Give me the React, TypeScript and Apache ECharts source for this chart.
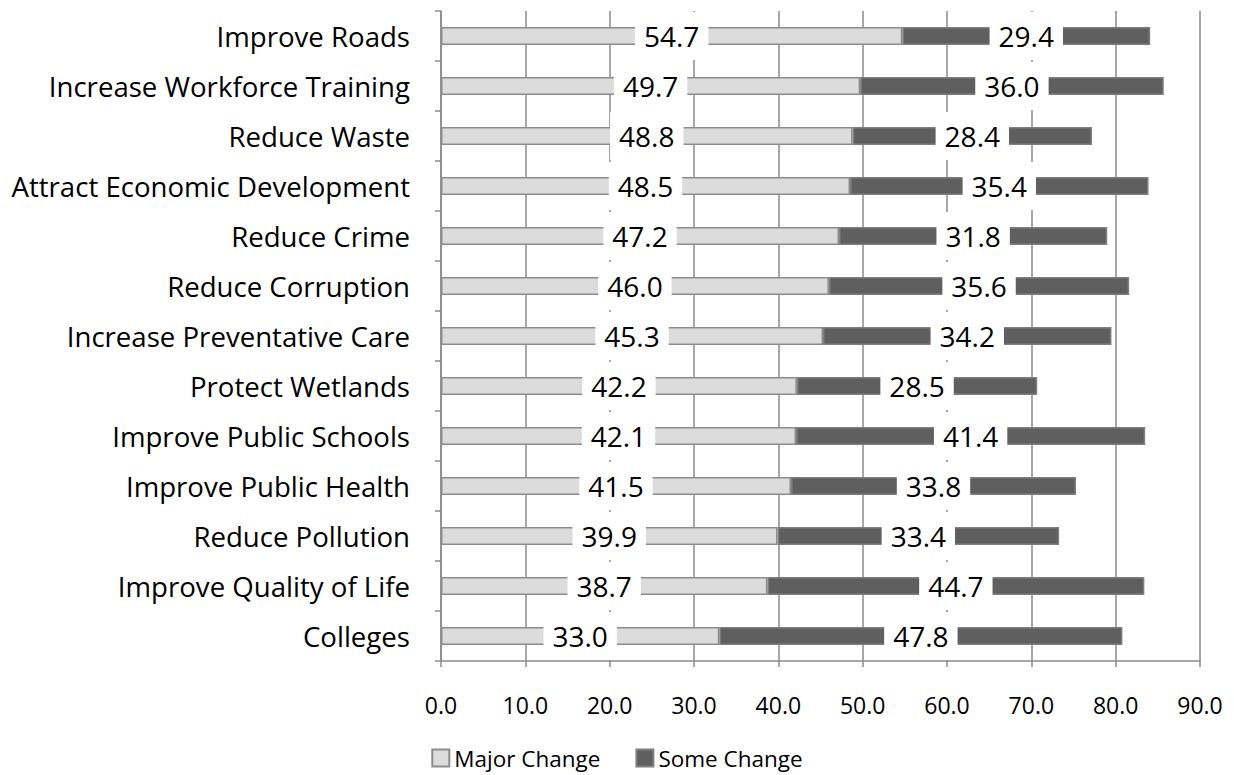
import React, { useEffect, useRef } from "react";
import * as echarts from "echarts";

const categories = [
  "Improve Roads",
  "Increase Workforce Training",
  "Reduce Waste",
  "Attract Economic Development",
  "Reduce Crime",
  "Reduce Corruption",
  "Increase Preventative Care",
  "Protect Wetlands",
  "Improve Public Schools",
  "Improve Public Health",
  "Reduce Pollution",
  "Improve Quality of Life",
  "Colleges",
];
const majorChange = [54.7, 49.7, 48.8, 48.5, 47.2, 46.0, 45.3, 42.2, 42.1, 41.5, 39.9, 38.7, 33.0];
const someChange = [29.4, 36.0, 28.4, 35.4, 31.8, 35.6, 34.2, 28.5, 41.4, 33.8, 33.4, 44.7, 47.8];

const FONT = "Open Sans";

export default function App() {
  const ref = useRef<HTMLDivElement>(null);
  useEffect(() => {
    if (!ref.current) return;
    const chart = echarts.init(ref.current, null, { renderer: "svg" });
    const label = {
      show: true,
      position: "inside",
      color: "#000",
      fontFamily: FONT,
      fontSize: 28,
      lineHeight: 26,
      backgroundColor: "#fff",
      padding: [11, 9],
      formatter: (p: any) => Number(p.value).toFixed(1),
    };
    chart.setOption({
      animation: false,
      backgroundColor: "#fff",
      textStyle: { fontFamily: FONT },
      grid: { left: 441, right: 34, top: 11, bottom: 114, containLabel: false },
      legend: {
        top: 746,
        left: "center",
        padding: 0,
        itemWidth: 17,
        itemHeight: 17,
        itemGap: 35,
        icon: "rect",
        textStyle: { fontFamily: FONT, fontSize: 22.5, lineHeight: 24, color: "#000" },
        data: ["Major Change", "Some Change"],
      },
      xAxis: {
        type: "value",
        min: 0,
        max: 90,
        interval: 10,
        axisLine: { show: true, lineStyle: { color: "#8a8a8a", width: 1.5 } },
        axisTick: { show: true, length: 6, lineStyle: { color: "#8a8a8a", width: 1.5 } },
        splitLine: { show: true, lineStyle: { color: "#8a8a8a", width: 1.5 } },
        axisLabel: {
          color: "#000",
          fontFamily: FONT,
          fontSize: 23,
          margin: 32,
          formatter: (v: number) => v.toFixed(1),
        },
      },
      yAxis: {
        type: "category",
        inverse: true,
        data: categories,
        axisLine: { show: true, lineStyle: { color: "#8a8a8a", width: 1.5 } },
        axisTick: { show: true, length: 6, inside: false, lineStyle: { color: "#8a8a8a", width: 1.5 } },
        axisLabel: { color: "#000", fontFamily: FONT, fontSize: 27.6, margin: 31 },
      },
      series: [
        {
          name: "Major Change",
          type: "bar",
          stack: "total",
          barWidth: 18,
          data: majorChange,
          itemStyle: { color: "#dcdcdc", borderColor: "#8c8c8c", borderWidth: 1.5 },
          label,
        },
        {
          name: "Some Change",
          type: "bar",
          stack: "total",
          barWidth: 18,
          data: someChange,
          itemStyle: { color: "#5f5f5f", borderColor: "#7f7f7f", borderWidth: 1.5 },
          label,
        },
      ],
    });
    return () => chart.dispose();
  }, []);
  return (
    <div
      ref={ref}
      style={{ position: "absolute", left: 0, top: 0, width: 1234, height: 775 }}
    />
  );
}
